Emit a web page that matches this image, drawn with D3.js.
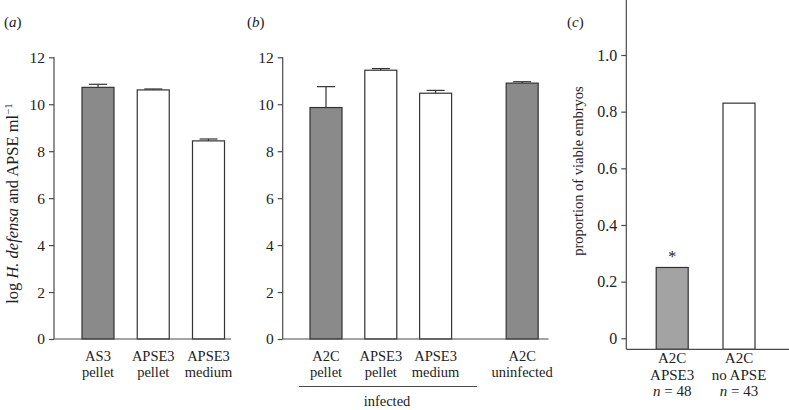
<!DOCTYPE html>
<html>
<head>
<meta charset="utf-8">
<script src="https://cdn.jsdelivr.net/npm/d3@7"></script>
<style>
  html, body { margin: 0; padding: 0; background: #fff; }
  svg { display: block; }
  text { font-family: "Liberation Serif", "Times New Roman", serif; fill: #222; }
</style>
</head>
<body>
<svg id="chart" width="789" height="410"></svg>
<script>
// ---------- data ----------
const aCategories = [["AS3", "pellet"], ["APSE3", "pellet"], ["APSE3", "medium"]];
const aValues = [10.72, 10.61, 8.44];
const aErrors = [0.13, 0.04, 0.08];
const aFilled = [true, false, false];

const bCategories = [["A2C", "pellet"], ["APSE3", "pellet"], ["APSE3", "medium"], ["A2C", "uninfected"]];
const bValues = [9.86, 11.45, 10.47, 10.90];
const bErrors = [0.89, 0.07, 0.12, 0.06];
const bFilled = [true, false, false, true];
const bGroupLabel = "infected";

const cCategories = [["A2C", "APSE3", "48"], ["A2C", "no APSE", "43"]];
const cValues = [0.25, 0.83];
const cFilled = [true, false];
const cSignificant = [true, false];

const abTicks = [0, 2, 4, 6, 8, 10, 12];
const cTicks = [0, 0.2, 0.4, 0.6, 0.8, 1.0];

// ---------- layout ----------
const svg = d3.select("#chart");
const AXIS = "#4a4a4a";
const BAR_STROKE = "#333";
const FILL_AB = "#8a8a8a";
const FILL_C = "#a3a3a3";
const barW = 32;

const yAB = d3.scaleLinear().domain([0, 12]).range([339, 57.3]);

function drawYAxis(g, x, scale, ticks, fmt, top, bottom, fontSize) {
  const ax = g.append("g").attr("transform", `translate(${x},0)`)
    .call(d3.axisLeft(scale).tickValues(ticks).tickFormat(fmt).tickSize(5).tickPadding(4).tickSizeOuter(0));
  ax.select(".domain").remove();
  ax.selectAll(".tick line").attr("stroke", AXIS).attr("stroke-width", 1.2);
  ax.selectAll(".tick text").style("font-family", '"Liberation Serif", serif').style("font-size", fontSize + "px").attr("fill", "#222");
  g.append("line").attr("x1", x).attr("x2", x).attr("y1", top).attr("y2", bottom)
    .attr("stroke", AXIS).attr("stroke-width", 1.2);
}

function drawBars(g, centers, values, errors, filled, yScale, baseY, fillColor) {
  values.forEach((v, i) => {
    const cx = centers[i];
    g.append("rect")
      .attr("x", cx - barW / 2).attr("y", yScale(v))
      .attr("width", barW).attr("height", baseY - yScale(v))
      .attr("fill", filled[i] ? fillColor : "#fff")
      .attr("stroke", BAR_STROKE).attr("stroke-width", 1.2);
    if (errors) {
      const yt = yScale(v + errors[i]);
      g.append("line").attr("x1", cx).attr("x2", cx).attr("y1", yScale(v)).attr("y2", yt)
        .attr("stroke", BAR_STROKE).attr("stroke-width", 1.2);
      g.append("line").attr("x1", cx - 9).attr("x2", cx + 9).attr("y1", yt).attr("y2", yt)
        .attr("stroke", BAR_STROKE).attr("stroke-width", 1.2);
    }
  });
}

function drawCatLabels(g, centers, cats, y0, dy, size) {
  cats.forEach((lines, i) => {
    lines.forEach((t, j) => {
      g.append("text").attr("x", centers[i]).attr("y", y0 + j * dy)
        .attr("text-anchor", "middle").style("font-size", size + "px").text(t);
    });
  });
}

// ---------- panel (a) ----------
const ga = svg.append("g");
const xa = d3.scalePoint().domain(d3.range(aValues.length)).range([98, 208.5]);
const aCenters = aValues.map((d, i) => xa(i));
drawBars(ga, aCenters, aValues, aErrors, aFilled, yAB, 339, FILL_AB);
drawYAxis(ga, 54, yAB, abTicks, d3.format("d"), 57.3, 339, 15.5);
ga.append("line").attr("x1", 54).attr("x2", 231).attr("y1", 339).attr("y2", 339)
  .attr("stroke", AXIS).attr("stroke-width", 1.2);
drawCatLabels(ga, aCenters, aCategories, 361, 16, 14.5);
ga.append("text").attr("x", 4).attr("y", 27).style("font-size", "15px")
  .html('(<tspan font-style="italic">a</tspan>)');
const yl = ga.append("text").attr("transform", "translate(18,203.5) rotate(-90)")
  .attr("text-anchor", "middle").style("font-size", "16.5px");
yl.append("tspan").text("log ");
yl.append("tspan").attr("font-style", "italic").text("H. defensa");
yl.append("tspan").text(" and APSE ml");
yl.append("tspan").attr("dy", -6).style("font-size", "11px").text("\u22121");

// ---------- panel (b) ----------
const gb = svg.append("g");
const bSlots = [0, 1, 2, 3.58];
const xb = d3.scaleLinear().domain([0, 1]).range([326, 380.8]);
const bCenters = bSlots.map(s => xb(s));
drawBars(gb, bCenters, bValues, bErrors, bFilled, yAB, 339, FILL_AB);
drawYAxis(gb, 282.7, yAB, abTicks, d3.format("d"), 57.3, 339, 15.5);
gb.append("line").attr("x1", 282.7).attr("x2", 548.5).attr("y1", 339).attr("y2", 339)
  .attr("stroke", AXIS).attr("stroke-width", 1.2);
drawCatLabels(gb, bCenters, bCategories, 361, 16, 14.5);
gb.append("line").attr("x1", 299).attr("x2", 477).attr("y1", 386.5).attr("y2", 386.5)
  .attr("stroke", AXIS).attr("stroke-width", 1.2);
gb.append("text").attr("x", 387).attr("y", 405.5).attr("text-anchor", "middle")
  .style("font-size", "14.5px").text(bGroupLabel);
gb.append("text").attr("x", 247).attr("y", 27).style("font-size", "15px")
  .html('(<tspan font-style="italic">b</tspan>)');

// ---------- panel (c) ----------
const gc = svg.append("g");
const yC = d3.scaleLinear().domain([0, 1]).range([338.3, 55]);
const xc = d3.scalePoint().domain(d3.range(cValues.length)).range([672.2, 739]);
const cCenters = cValues.map((d, i) => xc(i));
drawBars(gc, cCenters, cValues, null, cFilled, yC, 349.3, FILL_C);
drawYAxis(gc, 626.3, yC, cTicks, d => d === 0 ? "0" : d3.format(".1f")(d), 0, 349.3, 16);
gc.append("line").attr("x1", 626.3).attr("x2", 789).attr("y1", 349.3).attr("y2", 349.3)
  .attr("stroke", AXIS).attr("stroke-width", 1.2);
cCategories.forEach((lines, i) => {
  gc.append("text").attr("x", cCenters[i]).attr("y", 363).attr("text-anchor", "middle")
    .style("font-size", "15px").text(lines[0]);
  gc.append("text").attr("x", cCenters[i]).attr("y", 379.7).attr("text-anchor", "middle")
    .style("font-size", "15px").text(lines[1]);
  const t = gc.append("text").attr("x", cCenters[i]).attr("y", 396.4).attr("text-anchor", "middle")
    .style("font-size", "15px");
  t.append("tspan").attr("font-style", "italic").text("n");
  t.append("tspan").text(" = " + lines[2]);
});
cValues.forEach((v, i) => {
  if (cSignificant[i]) {
    gc.append("text").attr("x", cCenters[i]).attr("y", yC(v) - 5).attr("text-anchor", "middle")
      .style("font-size", "16px").attr("fill", "#444").text("*");
  }
});
gc.append("text").attr("x", 567).attr("y", 27).style("font-size", "15px")
  .html('(<tspan font-style="italic">c</tspan>)');
gc.append("text").attr("transform", "translate(583,171) rotate(-90)")
  .attr("text-anchor", "middle").style("font-size", "14.5px").text("proportion of viable embryos");
</script>
</body>
</html>
